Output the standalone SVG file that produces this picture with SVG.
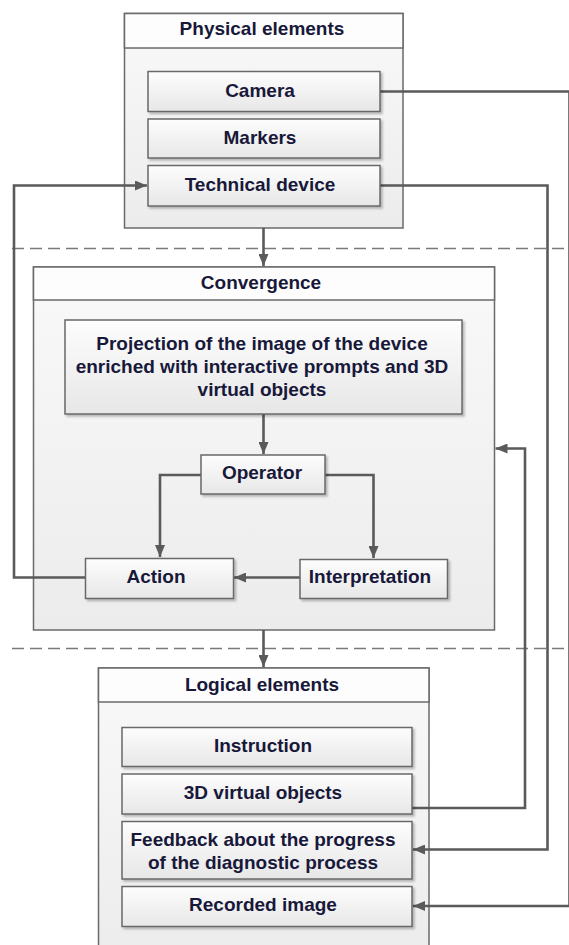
<svg xmlns="http://www.w3.org/2000/svg" width="569" height="945" viewBox="0 0 569 945">
  <defs>
    <linearGradient id="gBox" x1="0" y1="0" x2="0" y2="1">
      <stop offset="0" stop-color="#fdfdfd"/>
      <stop offset="1" stop-color="#e7e7e7"/>
    </linearGradient>
    <linearGradient id="gPanel" x1="0" y1="0" x2="0" y2="1">
      <stop offset="0" stop-color="#f9f9f9"/>
      <stop offset="1" stop-color="#ececec"/>
    </linearGradient>
    <filter id="shadow" x="-10%" y="-10%" width="125%" height="140%">
      <feDropShadow dx="2" dy="2" stdDeviation="1.2" flood-color="#000" flood-opacity="0.25"/>
    </filter>
    <marker id="arrow" viewBox="0 0 12 10" refX="12" refY="5" markerWidth="12" markerHeight="10" markerUnits="userSpaceOnUse" orient="auto">
      <path d="M0,0 L12,5 L0,10 z" fill="#5a5a5a"/>
    </marker>
  </defs>
  <style>
    .panel { fill: url(#gPanel); stroke: #6a6a6a; stroke-width: 1.5; }
    .head { fill: #fdfdfd; stroke: #6a6a6a; stroke-width: 1.5; }
    .box { fill: url(#gBox); stroke: #686868; stroke-width: 1.5; filter: url(#shadow); }
    .lbl { font-family: "Liberation Sans", Arial, sans-serif; font-weight: bold; font-size: 19px; fill: #18183a; text-anchor: middle; dominant-baseline: central; }
    .conn { fill: none; stroke: #5a5a5a; stroke-width: 2.6; }
    .sep { fill: none; stroke: #7a7a7a; stroke-width: 1.5; stroke-dasharray: 12 6; }
  </style>

  <rect width="569" height="945" fill="#ffffff"/>

  <!-- dashed layer separators -->
  <line class="sep" x1="12" y1="248.5" x2="569" y2="248.5"/>
  <line class="sep" x1="12" y1="648.5" x2="569" y2="648.5"/>

  <!-- containers -->
  <g id="physical-elements">
    <rect class="panel" x="124.5" y="13.5" width="278.5" height="214.5"/>
    <rect class="head" x="124.5" y="13.5" width="278.5" height="34.5"/>
    <text class="lbl" x="262" y="28">Physical elements</text>
  </g>
  <g id="convergence">
    <rect class="panel" x="33.5" y="267" width="461" height="363"/>
    <rect class="head" x="33.5" y="267" width="461" height="33"/>
    <text class="lbl" x="261" y="282">Convergence</text>
  </g>
  <g id="logical-elements">
    <rect class="panel" x="98.5" y="668" width="330.5" height="290"/>
    <rect class="head" x="98.5" y="668" width="330.5" height="34"/>
    <text class="lbl" x="262" y="684">Logical elements</text>
  </g>

  <!-- connectors -->
  <g id="connectors">
    <path class="conn" d="M380,91.5 H569.5 V906 H413" marker-end="url(#arrow)"/>
    <path class="conn" d="M380,185.5 H547.5 V849.5 H413" marker-end="url(#arrow)"/>
    <path class="conn" d="M85,577.5 H14 V185.5 H147" marker-end="url(#arrow)"/>
    <path class="conn" d="M263.5,228 V266" marker-end="url(#arrow)"/>
    <path class="conn" d="M263.5,414 V454" marker-end="url(#arrow)"/>
    <path class="conn" d="M201,475 H160 V557" marker-end="url(#arrow)"/>
    <path class="conn" d="M325,475 H373.5 V558" marker-end="url(#arrow)"/>
    <path class="conn" d="M300,577.5 H234" marker-end="url(#arrow)"/>
    <path class="conn" d="M263.5,630 V667" marker-end="url(#arrow)"/>
    <path class="conn" d="M412,808 H525 V448.5 H495.5" marker-end="url(#arrow)"/>
  </g>

  <!-- physical elements -->
  <g id="camera">
    <rect class="box" x="148" y="71.5" width="232" height="40"/>
    <text class="lbl" x="260" y="90">Camera</text>
  </g>
  <g id="markers">
    <rect class="box" x="148" y="119" width="232" height="39"/>
    <text class="lbl" x="260" y="137">Markers</text>
  </g>
  <g id="technical-device">
    <rect class="box" x="148" y="165.5" width="232" height="40.5"/>
    <text class="lbl" x="260" y="184">Technical device</text>
  </g>

  <!-- convergence -->
  <g id="projection">
    <rect class="box" x="65" y="320" width="397" height="94"/>
    <text class="lbl" x="262" y="343">Projection of the image of the device</text>
    <text class="lbl" x="262" y="366">enriched with interactive prompts and 3D</text>
    <text class="lbl" x="262" y="389">virtual objects</text>
  </g>
  <g id="operator">
    <rect class="box" x="201" y="455" width="124" height="39"/>
    <text class="lbl" x="262" y="472">Operator</text>
  </g>
  <g id="action">
    <rect class="box" x="85.5" y="558.5" width="148" height="40"/>
    <text class="lbl" x="156" y="576">Action</text>
  </g>
  <g id="interpretation">
    <rect class="box" x="300" y="559.5" width="147.5" height="39"/>
    <text class="lbl" x="370" y="576">Interpretation</text>
  </g>

  <!-- logical elements -->
  <g id="instruction">
    <rect class="box" x="122" y="727.5" width="290" height="39"/>
    <text class="lbl" x="263" y="745">Instruction</text>
  </g>
  <g id="virtual-objects">
    <rect class="box" x="122" y="774" width="290" height="40"/>
    <text class="lbl" x="263" y="792">3D virtual objects</text>
  </g>
  <g id="feedback">
    <rect class="box" x="122" y="821.5" width="290" height="57.5"/>
    <text class="lbl" x="263" y="839">Feedback about the progress</text>
    <text class="lbl" x="263" y="862">of the diagnostic process</text>
  </g>
  <g id="recorded-image">
    <rect class="box" x="122" y="886.5" width="290" height="40"/>
    <text class="lbl" x="263" y="904">Recorded image</text>
  </g>
</svg>
